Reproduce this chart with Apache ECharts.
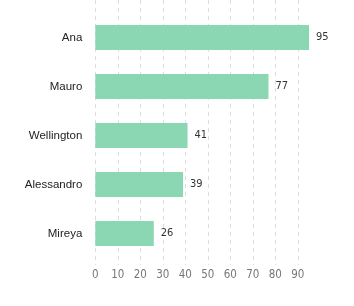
<!DOCTYPE html>
<html><head><meta charset="utf-8">
<script src="https://cdn.jsdelivr.net/npm/echarts@6/dist/echarts.min.js"></script>
<style>html,body{margin:0;padding:0;background:#fff}#c{width:354px;height:306px}</style>
</head><body><div id="c"></div>
<script>
const categories = ['Ana', 'Mauro', 'Wellington', 'Alessandro', 'Mireya'];
const values = [95, 77, 41, 39, 26];
const tickMax = 95;
const tickInterval = 10;

const chart = echarts.init(document.getElementById('c'), null, {renderer: 'canvas'});
const narrow = '"DejaVu Sans Condensed", "Liberation Sans Narrow", sans-serif';
const xCommon = {type: 'value', min: 0, max: tickMax, interval: tickInterval};
chart.setOption({
  animation: false,
  grid: [
    {left: 95.3, right: 45, top: 13, bottom: 48},
    {left: 95.3, right: 45, top: 0, bottom: 41}
  ],
  xAxis: [
    Object.assign({gridIndex: 0,
      axisLine: {show: false}, axisTick: {show: false}, splitLine: {show: false},
      axisLabel: {showMaxLabel: false, color: '#777', fontSize: 11.5, fontFamily: narrow, margin: 11}
    }, xCommon),
    Object.assign({gridIndex: 1,
      axisLine: {show: false}, axisTick: {show: false}, axisLabel: {show: false},
      splitLine: {show: true, showMaxLine: false, lineStyle: {color: '#ddd', type: [4, 4], width: 1}}
    }, xCommon)
  ],
  yAxis: [
    {type: 'category', gridIndex: 0, data: categories, inverse: true,
     axisLine: {show: false}, axisTick: {show: false},
     axisLabel: {color: '#222', fontSize: 11.5, fontFamily: '"Liberation Sans", Arial, sans-serif', margin: 13}},
    {type: 'value', gridIndex: 1, show: false}
  ],
  series: [{
    type: 'bar', xAxisIndex: 0, yAxisIndex: 0, data: values, barWidth: 25,
    itemStyle: {color: '#8cd7b3'},
    label: {show: true, position: 'right', distance: 7, color: '#333', fontSize: 11, fontFamily: narrow}
  }]
});
</script></body></html>
